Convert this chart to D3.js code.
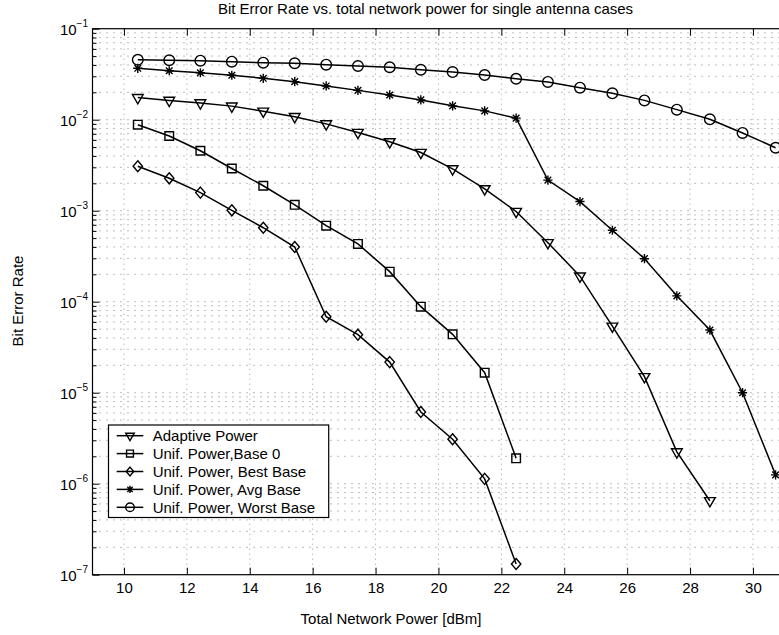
<!DOCTYPE html>
<html>
<head>
<meta charset="utf-8">
<script src="https://cdn.jsdelivr.net/npm/d3@7"></script>
<style>
  body { margin: 0; background: #fff; }
  text { font-family: "Liberation Sans", Arial, Helvetica, sans-serif; fill: #000; }
</style>
</head>
<body>
<div id="chart"></div>
<script>
// Data
var power      = [10.44, 11.44, 12.43, 13.43, 14.43, 15.43, 16.43, 17.44, 18.45, 19.44,
                  20.45, 21.47, 22.47, 23.48, 24.50, 25.53, 26.55, 27.58, 28.63, 29.67, 30.72];
var adaptive   = [0.0175, 0.0163, 0.0153, 0.0141, 0.0124, 0.0108, 0.0090, 0.00724, 0.00572, 0.00436,
                  0.00288, 0.00174, 0.00098, 0.000445, 0.000191, 5.38e-5, 1.50e-5, 2.24e-6, 6.5e-7];
var base0      = [0.00881, 0.00662, 0.00456, 0.00291, 0.00188, 0.00116, 0.000685, 0.000431, 0.000214,
                  8.82e-5, 4.38e-5, 1.66e-5, 1.90e-6];
var bestBase   = [0.00308, 0.00227, 0.00158, 0.00101, 0.00065, 0.000399, 6.84e-5, 4.34e-5, 2.17e-5,
                  6.14e-6, 3.08e-6, 1.13e-6, 1.31e-7];
var avgBase    = [0.0367, 0.0345, 0.0328, 0.0308, 0.0285, 0.0262, 0.0235, 0.0210, 0.0187, 0.0165,
                  0.0142, 0.0125, 0.0104, 0.00217, 0.00126, 0.00061, 0.000297, 0.000116, 4.88e-5,
                  1.0e-5, 1.25e-6];
var worstBase  = [0.0455, 0.0450, 0.0445, 0.0434, 0.0423, 0.0417, 0.0402, 0.0389, 0.0377, 0.0354,
                  0.0334, 0.0310, 0.0282, 0.0260, 0.0225, 0.0195, 0.0163, 0.0129, 0.0101, 0.00715,
                  0.00492];
var series_names = ['Adaptive Power', 'Unif. Power,Base 0', 'Unif. Power, Best Base',
                    'Unif. Power, Avg Base', 'Unif. Power, Worst Base'];
var series_markers = ['triangle', 'square', 'diamond', 'star', 'circle'];
var x_ticks = [10, 12, 14, 16, 18, 20, 22, 24, 26, 28, 30];
var y_exponents = [-7, -6, -5, -4, -3, -2, -1];

var chart_width  = 779;
var chart_height = 635;
var plot_left = 92.5, plot_right = 784.4, plot_top = 28.7, plot_bottom = 574.7;

var x = d3.scaleLinear().domain([9, 31]).range([plot_left, plot_right]);
var y = d3.scaleLog().domain([1e-7, 1e-1]).range([plot_bottom, plot_top]);

var svg = d3.select('#chart')
            .append('svg')
            .attr('width', chart_width)
            .attr('height', chart_height);

// Grid (dotted, like matlab)
var minor_vals = [];
y_exponents.forEach(function(e) {
  for (var m = 1; m < 10; m++) {
    var v = m * Math.pow(10, e);
    if (v <= 0.1000001) minor_vals.push(v);
  }
});
var decades = y_exponents.map(function(e){ return Math.pow(10, e); });

svg.append('g').selectAll('line')
   .data(minor_vals.filter(function(v){ return v > 1.1e-7 && v < 0.099; }))
   .enter().append('line')
   .attr('x1', plot_left).attr('x2', plot_right)
   .attr('y1', function(d){ return y(d); }).attr('y2', function(d){ return y(d); })
   .attr('stroke', '#7a7a7a').attr('stroke-width', 1)
   .attr('stroke-dasharray', '1,6');

svg.append('g').selectAll('line')
   .data(x_ticks)
   .enter().append('line')
   .attr('x1', function(d){ return x(d); }).attr('x2', function(d){ return x(d); })
   .attr('y1', plot_top).attr('y2', plot_bottom)
   .attr('stroke', '#9a9a9a').attr('stroke-width', 1)
   .attr('stroke-dasharray', '1,4');

// Axes box
svg.append('rect')
   .attr('x', plot_left).attr('y', plot_top)
   .attr('width', plot_right - plot_left).attr('height', plot_bottom - plot_top)
   .attr('fill', 'none').attr('stroke', '#000').attr('stroke-width', 1.2);

var xAxis = svg.append('g')
   .attr('transform', 'translate(0,' + plot_bottom + ')')
   .call(d3.axisBottom(x).tickValues(x_ticks).tickSizeInner(-7).tickSizeOuter(0).tickPadding(7.8));
var xAxisTop = svg.append('g')
   .attr('transform', 'translate(0,' + plot_top + ')')
   .call(d3.axisTop(x).tickValues(x_ticks).tickSizeInner(-7).tickSizeOuter(0).tickFormat(''));
var yAxis = svg.append('g')
   .attr('transform', 'translate(' + plot_left + ',0)')
   .call(d3.axisLeft(y).tickValues(decades).tickSizeInner(-7).tickSizeOuter(0).tickFormat(''));
var yMinor = svg.append('g')
   .attr('transform', 'translate(' + plot_left + ',0)')
   .call(d3.axisLeft(y).tickValues(minor_vals.filter(function(v){ return decades.indexOf(v) < 0; }))
          .tickSizeInner(-4).tickSizeOuter(0).tickFormat(''));

[xAxis, xAxisTop, yAxis, yMinor].forEach(function(g) {
  g.select('.domain').remove();
  g.selectAll('line').attr('stroke', '#000');
});
xAxis.selectAll('text')
     .attr('font-size', 15)
     .attr('font-family', '"Liberation Sans", Arial, sans-serif')
     .attr('fill', '#000');

// y tick labels: 10^e
var ylab = svg.append('g').selectAll('text')
   .data(y_exponents)
   .enter().append('text')
   .attr('x', 88)
   .attr('y', function(d){ return y(Math.pow(10, d)) + 6; })
   .attr('text-anchor', 'end')
   .attr('font-size', 15);
ylab.append('tspan').text('10');
ylab.append('tspan')
    .attr('dy', -8)
    .attr('font-size', 10)
    .text(function(d){ return '\u2212' + Math.abs(d); });

// Titles
svg.append('text')
   .attr('x', 425.5).attr('y', 14)
   .attr('text-anchor', 'middle')
   .attr('font-size', 15)
   .text('Bit Error Rate vs. total network power for single antenna cases');
svg.append('text')
   .attr('x', 391).attr('y', 624)
   .attr('text-anchor', 'middle')
   .attr('font-size', 15)
   .text('Total Network Power [dBm]');
svg.append('text')
   .attr('transform', 'translate(23,301) rotate(-90)')
   .attr('text-anchor', 'middle')
   .attr('font-size', 15)
   .text('Bit Error Rate');

// Marker shapes
function markerPath(type, s) {
  var p = d3.path();
  if (type === 'circle') {
    p.moveTo(5.3 * s, 0); p.arc(0, 0, 5.3 * s, 0, 2 * Math.PI);
  } else if (type === 'square') {
    var h = 4.3 * s;
    p.rect(-h, -h, 2 * h, 2 * h);
  } else if (type === 'diamond') {
    p.moveTo(0, -5.5 * s); p.lineTo(4.7 * s, 0); p.lineTo(0, 5.5 * s); p.lineTo(-4.7 * s, 0); p.closePath();
  } else if (type === 'triangle') {
    var r = 6.2 * s;
    p.moveTo(-r * 0.866, -r * 0.5); p.lineTo(r * 0.866, -r * 0.5); p.lineTo(0, r); p.closePath();
  } else if (type === 'star') {
    var a = 4.6 * s, b = a * 0.72;
    p.moveTo(-a, 0); p.lineTo(a, 0);
    p.moveTo(0, -a); p.lineTo(0, a);
    p.moveTo(-b, -b); p.lineTo(b, b);
    p.moveTo(-b, b); p.lineTo(b, -b);
  }
  return p.toString();
}

var all_series = [adaptive, base0, bestBase, avgBase, worstBase].map(function(vals, i) {
  return {
    name: series_names[i],
    marker: series_markers[i],
    points: vals.map(function(v, k){ return { x: power[k], y: v }; })
  };
});

var line = d3.line()
             .x(function(d){ return x(d.x); })
             .y(function(d){ return y(d.y); });

var groups = svg.selectAll('g.series')
                .data(all_series)
                .enter()
                .append('g')
                .classed('series', true);

groups.append('path')
      .attr('d', function(d){ return line(d.points); })
      .attr('fill', 'none')
      .attr('stroke', '#000')
      .attr('stroke-width', 1.5);

groups.each(function(s) {
  d3.select(this).selectAll('path.mk')
    .data(s.points)
    .enter().append('path')
    .classed('mk', true)
    .attr('transform', function(d){ return 'translate(' + x(d.x) + ',' + y(d.y) + ')'; })
    .attr('d', markerPath(s.marker, 1))
    .attr('fill', 'none')
    .attr('stroke', '#000')
    .attr('stroke-width', 1.4);
});

// Legend
var legend = svg.append('g');
legend.append('rect')
      .attr('x', 108.5).attr('y', 425)
      .attr('width', 220.2).attr('height', 92.5)
      .attr('fill', '#fff').attr('stroke', '#000').attr('stroke-width', 1.2);

var items = legend.selectAll('g.item')
                  .data(all_series)
                  .enter().append('g')
                  .classed('item', true)
                  .attr('transform', function(d, i){ return 'translate(0,' + (435.7 + i * 17.9) + ')'; });
items.append('line')
     .attr('x1', 116.7).attr('x2', 143.3)
     .attr('stroke', '#000').attr('stroke-width', 1.5);
items.append('path')
     .attr('transform', 'translate(130,0)')
     .attr('d', function(d){ return markerPath(d.marker, 0.8); })
     .attr('fill', 'none').attr('stroke', '#000').attr('stroke-width', 1.4);
items.append('text')
     .attr('x', 152.7).attr('y', 5.3)
     .attr('font-size', 15)
     .text(function(d){ return d.name; });
</script>
</body>
</html>
